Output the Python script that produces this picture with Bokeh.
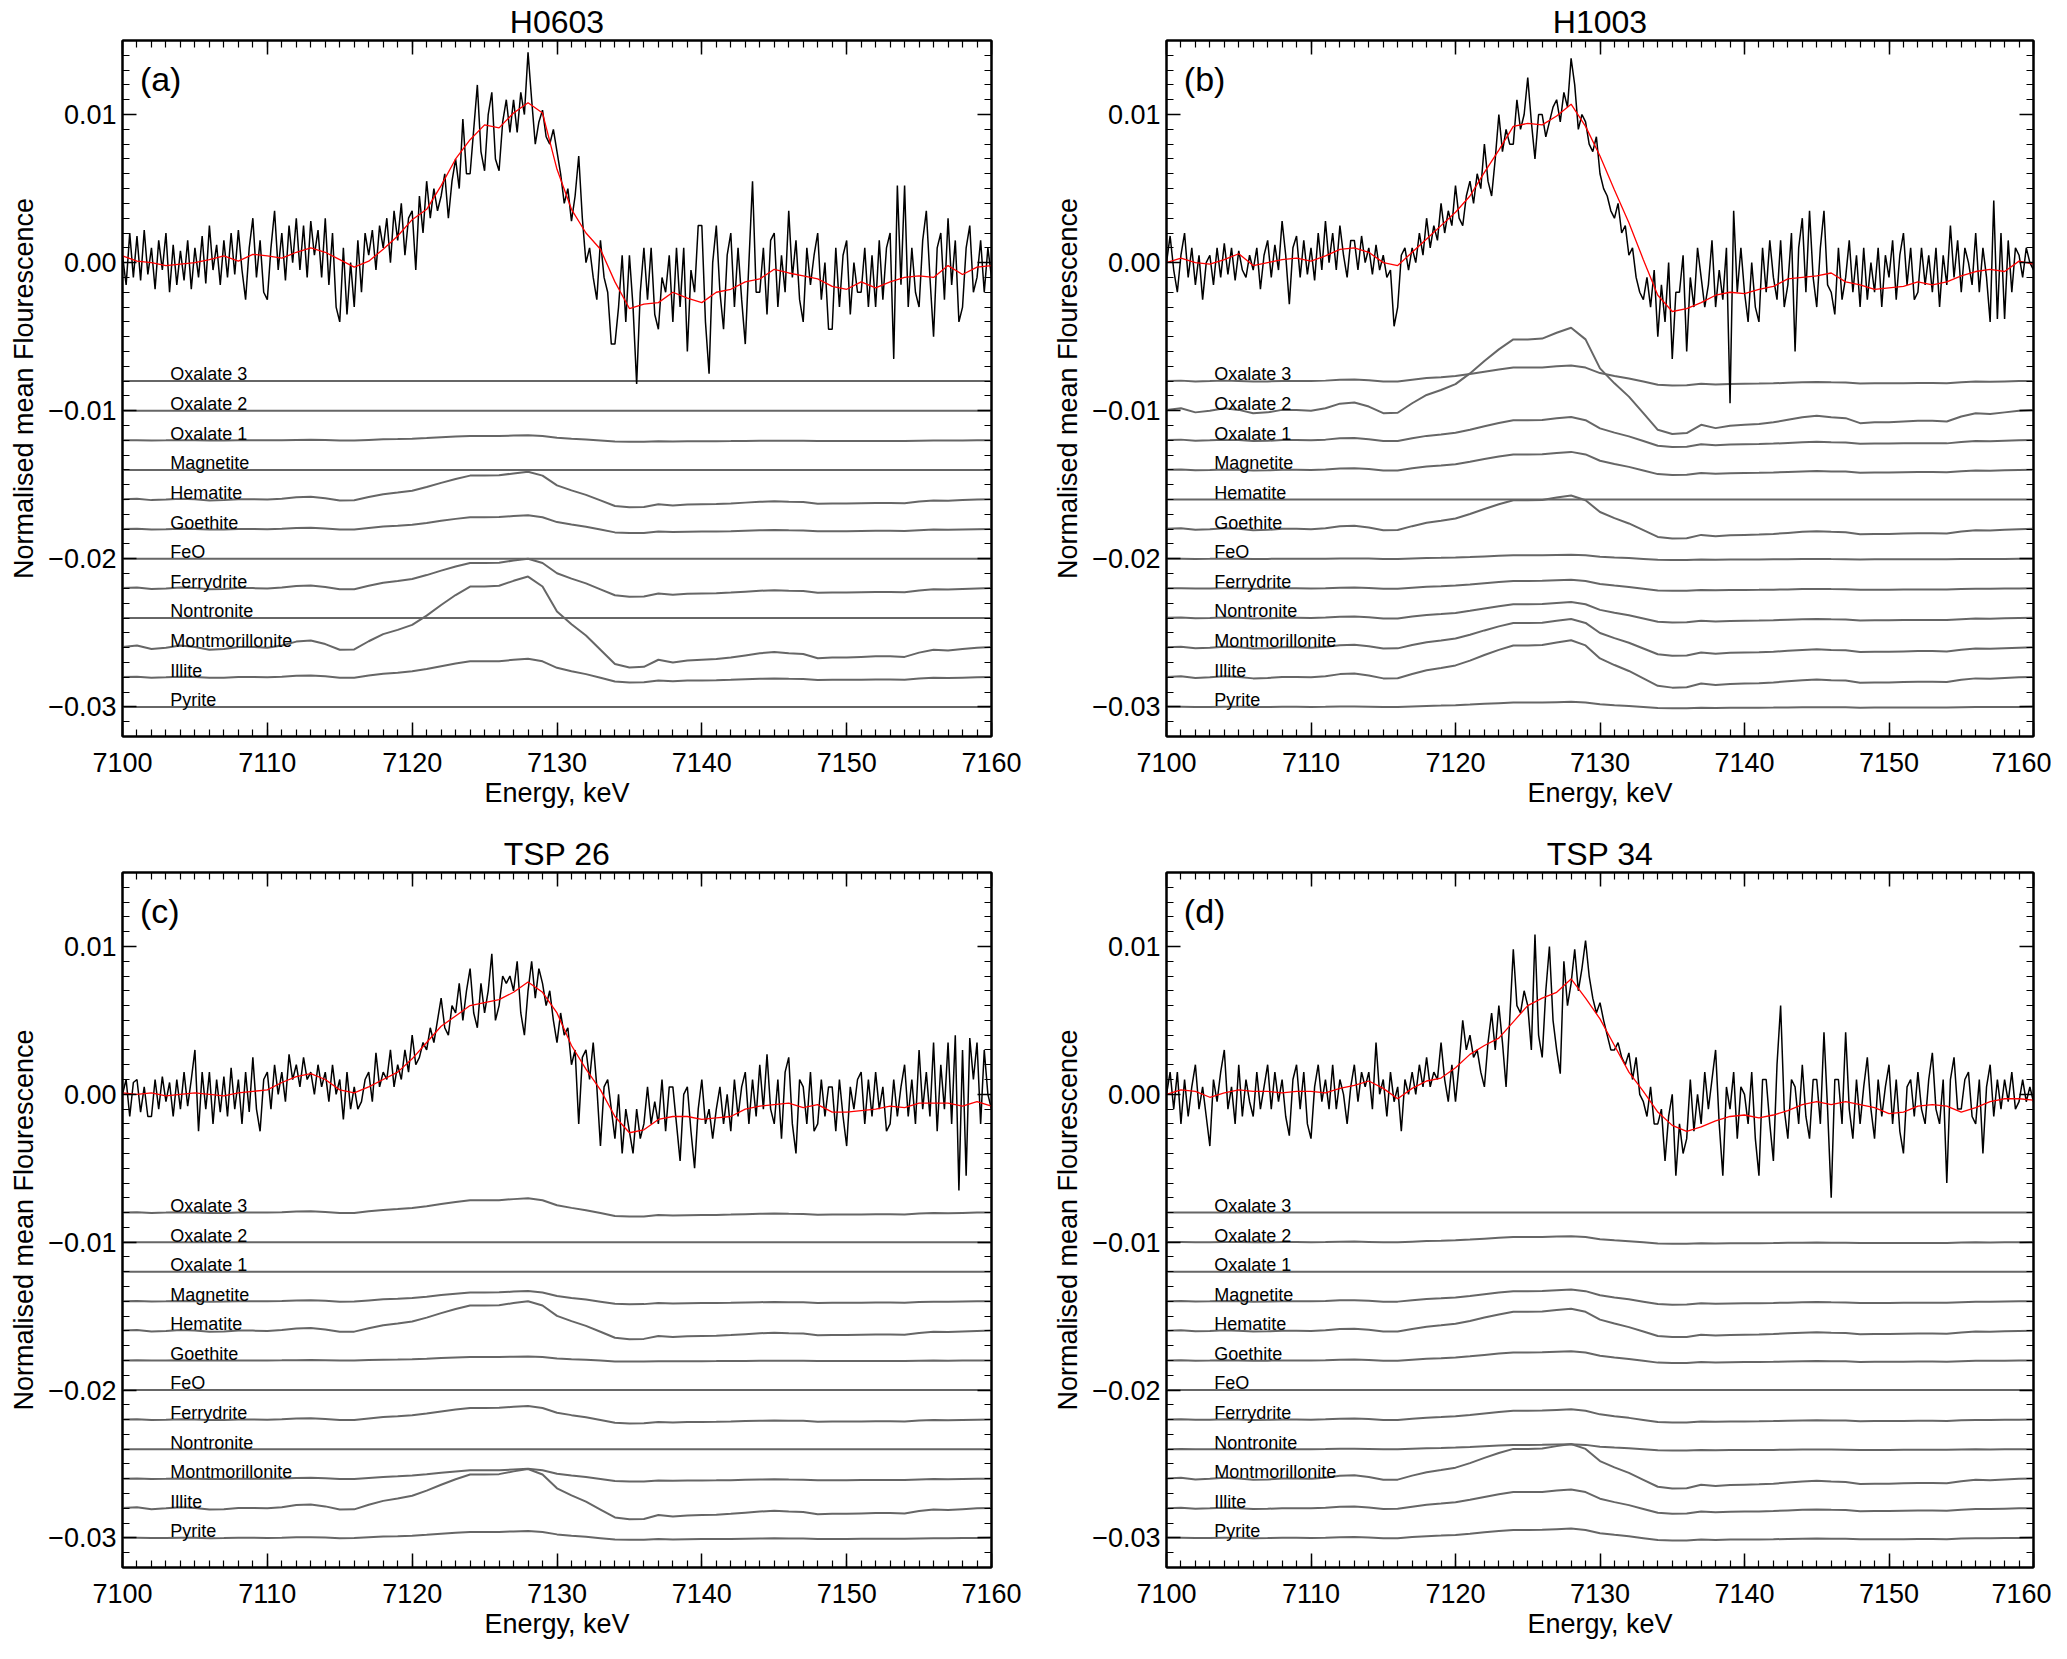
import numpy as np
from bokeh.plotting import figure
from bokeh.layouts import gridplot
from bokeh.core.properties import value
from bokeh.models import (LinearAxis, SingleIntervalTicker, CustomJSTickFormatter,
                          Label, Range1d)
from bokeh.embed import file_html
from bokeh.resources import INLINE

FONT = "Liberation Sans"

# energy grids (keV): measured spectra at 0.25 keV, fits/standards at 1 keV
energy_fine = 7100 + 0.25 * np.arange(241)
energy = np.arange(7100, 7161)

panel_titles = ["H0603", "H1003", "TSP 26", "TSP 34"]
panel_letters = ["(a)", "(b)", "(c)", "(d)"]

components = ["Oxalate 3", "Oxalate 2", "Oxalate 1", "Magnetite", "Hematite", "Goethite",
              "FeO", "Ferrydrite", "Nontronite", "Montmorillonite", "Illite", "Pyrite"]
comp_offsets = [-0.008, -0.010, -0.012, -0.014, -0.016, -0.018,
                -0.020, -0.022, -0.024, -0.026, -0.028, -0.030]

# edge shape of the standards, normalised to 1 at the 7128 keV peak
edge_shape = [0.01, 0.03, -0.02, 0.0, 0.03, 0.01, -0.03, -0.02, 0.01, 0.01,
              0.0, 0.03, 0.085, 0.10, 0.05, -0.03, -0.025, 0.09, 0.19, 0.25,
              0.32, 0.45, 0.60, 0.74, 0.86, 0.86, 0.87, 0.94, 1.0, 0.86,
              0.51, 0.33, 0.17, -0.03, -0.23, -0.28, -0.27, -0.17, -0.21, -0.18,
              -0.17, -0.16, -0.14, -0.11, -0.08, -0.06, -0.08, -0.09, -0.15, -0.14,
              -0.14, -0.13, -0.12, -0.12, -0.13, -0.07, -0.03, -0.04, -0.02, 0.0,
              0.01]

# peak height of each standard's contribution, per panel
weights_a = [0, 0, 0.00034, 0, 0.00188, 0.00094, 0, 0.0020, 0, 0.0048, 0.00125, 0]
weights_b = [0.00106, 0.0056, 0.00158, 0.00122, 0, 0.00227, 0.00027, 0.00059, 0.00108, 0.00194, 0.0025, 0.00034]
weights_c = [0.00097, 0, 0, 0.0007, 0.0020, 0.00027, 0, 0.00092, 0, 0.00067, 0.00266, 0.00047]
weights_d = [0, 0.0004, 0, 0.0008, 0.0015, 0.00063, 0, 0.0007, 0.00034, 0.00235, 0.00128, 0.00063]

# fitted curves (red), units of 1e-4
red_a = [4.5, 1, 0, -2, -1, 0, 2, 4.5, 1, 5.6, 4.5, 3, 7, 10, 7, 2, -3, 1, 9, 18,
         29, 36, 52, 70, 83, 93, 91, 101, 108, 101, 63, 36, 20, 9, -13, -31, -28, -27, -20, -24,
         -27, -20, -18, -13, -11, -4.5, -7, -9, -11, -16, -18, -13, -17, -13, -10, -9, -10, -2, -8, -3,
         -2]
red_b = [0, 3, 0, -1, 2, 6, -2, 0, 2, 3, 1, 4.5, 9, 10, 7, 0, -2, 7, 16, 25,
         34, 45, 61, 76, 92, 94, 93, 99, 107, 92, 72, 49, 27, 2, -22, -33, -31, -27, -22, -20,
         -21, -18, -16, -11, -10, -9, -7, -13, -15, -18, -17, -16, -13, -15, -13, -9, -6, -4.5, -6, 1,
         -1]
red_c = [1, 0, 1, -1, 0, 1, 0, -1, 1, 2, 3, 8, 12, 14, 10, 3, 1, 5, 10, 15,
         24, 35, 46, 53, 60, 62, 64, 69, 76, 69, 55, 33, 17, 3, -15, -26, -24, -17, -15, -15,
         -17, -16, -15, -10, -8, -7, -6, -9, -7, -12, -12, -11, -10, -8, -9, -6, -6, -6, -8, -5,
         -8]
red_d = [0, 3, 2, -2, 1, 3, 2, 2, 1, 2, 2, 1, 4, 6, 9, 4, -3, 4, 9, 11,
         18, 27, 33, 38, 49, 60, 65, 69, 78, 65, 51, 33, 15, 2, -12, -21, -25, -22, -18, -15,
         -14, -16, -14, -11, -7, -5, -7, -5, -7, -9, -13, -12, -8, -7, -8, -12, -9, -5, -3, -3,
         -4]

# measured spectra (black), units of 1e-4, four samples per keV
black_a = [5, -15, 20, -10, 18, -12, 22, -8, 10, -18, 15, -5, 20, -20, 12, -15,
           8, -12, 15, -18, 10, -10, 18, -14, 25, -5, 12, -15, 15, -10, 20, -8,
           22, -5, -25, 10, 30, -10, 15, -20, -25, 10, 35, -5, 20, -12, 25, 0,
           30, -5, 25, -10, 28, 5, 22, -10, 30, -15, 20, -30, -40, 10, -35, 0,
           -30, 15, -20, 20, 5, 22, -5, 25, 10, 30, 0, 35, 15, 40, 5, 30,
           35, -5, 45, 20, 55, 30, 50, 35, 45, 60, 30, 55, 70, 50, 97, 60,
           60, 90, 120, 75, 62, 100, 115, 70, 62, 95, 110, 88, 110, 88, 115, 100,
           142, 110, 80, 95, 103, 85, 80, 90, 75, 60, 40, 50, 28, 45, 72, 30,
           0, 10, -10, -25, 15, -10, -20, -55, -55, -30, 5, -40, 5, -30, -82, -20,
           10, -25, 10, -35, -45, -10, -20, 5, -40, 10, -30, 10, -60, -5, -20, 25,
           25, -40, -75, 0, 25, -20, -45, 5, 20, -30, 10, -25, -55, 0, 55, -20,
           -20, 10, -35, 15, 20, -30, 5, -20, 35, -10, 15, -25, -40, 10, -15, 5,
           20, -25, 0, -45, -45, 10, -30, 5, 15, -35, 0, -20, -20, 10, -30, 5,
           -30, 15, -25, 10, 20, -65, 52, -15, 52, -30, 10, -20, -30, 15, 35, -10,
           -50, 10, 20, -25, 30, -15, 15, -40, -30, 10, 25, -20, -10, 15, -20, 10,
           -10]
black_b = [0, 18, -5, -20, 5, 20, -10, 10, -15, 5, -25, 0, 5, -15, 10, -10,
           13, -8, 10, -12, 8, -5, -10, 5, -5, 10, -18, 5, 15, -10, 12, -5,
           28, 5, -28, 10, 18, -10, 15, -8, 10, -12, 20, -5, 28, 0, 20, -5,
           25, 5, -10, 15, 15, -5, 18, 0, 10, -8, 12, -5, 5, -10, -5, -43,
           -30, 5, 10, -5, 10, 0, 20, 5, 30, 10, 25, 15, 40, 20, 35, 25,
           52, 30, 25, 45, 55, 40, 60, 50, 80, 55, 45, 70, 100, 75, 90, 80,
           80, 110, 90, 100, 125, 95, 70, 100, 100, 85, 95, 105, 110, 95, 115, 105,
           138, 120, 90, 100, 95, 80, 75, 85, 60, 50, 45, 35, 30, 40, 20, 25,
           5, 10, -10, -20, -25, -10, -30, -5, -50, -15, -40, 0, -65, -20, -20, 5,
           -60, -10, -30, 10, -10, -30, -15, 15, -30, -5, -25, 10, -95, 35, -20, 10,
           -20, -40, 0, -30, -40, 10, -20, 15, -10, -25, 15, -30, -15, 20, -60, 10,
           30, -20, 35, -10, -30, 10, 35, -15, -20, -35, 10, -25, -10, 15, -20, 5,
           -30, 10, -25, 0, -20, 10, -30, 5, -10, 15, -25, 5, 20, -15, 10, -25,
           -20, 10, -15, 5, -20, 10, -30, 5, -15, 25, -10, 15, -20, 10, 0, -15,
           20, -20, 10, -10, -40, 42, -38, 20, -38, 15, -20, 10, 5, -10, 10, 0,
           -5]
black_c = [0, 10, -15, 8, 10, -12, 5, -15, -15, 10, -10, 12, -5, 8, -15, 10,
           -10, 15, -8, 10, 30, -25, 15, -10, 15, -20, 10, -12, 12, -15, 18, -10,
           10, -20, 15, -12, 25, -10, -25, 10, 15, -10, 20, 0, 15, -5, 27, 10,
           20, 5, 25, 10, 15, 0, 20, 5, 15, -5, 20, 0, 10, -17, 15, -10,
           5, -10, -5, 10, 15, -5, 28, 5, 15, 10, 30, 5, 20, 10, 30, 15,
           40, 20, 25, 35, 30, 45, 35, 50, 65, 45, 40, 60, 55, 75, 50, 70,
           85, 55, 45, 75, 55, 70, 95, 50, 60, 80, 75, 80, 70, 90, 55, 40,
           70, 90, 65, 85, 75, 60, 70, 50, 35, 55, 40, 45, 20, 30, -20, 25,
           30, 10, 35, 5, -35, 5, 10, -10, -30, 0, -40, -10, -25, -40, -10, -30,
           -20, 5, -20, -5, -20, 10, -25, 5, 5, -20, -45, 0, 5, -25, -50, -10,
           10, -20, -10, -30, -10, 5, -20, 0, -25, 10, -15, 5, 15, -20, 10, -15,
           20, -10, 27, -10, -20, 10, -30, 15, 25, -20, -40, 10, 5, -20, 15, -25,
           -20, 10, -15, 5, 5, -25, 10, -15, -35, 5, -10, 10, 15, -20, 10, -15,
           15, -10, 5, -25, -20, 10, -15, 5, 20, -15, 10, -20, 30, -10, 15, -15,
           35, -25, 20, -10, 35, -20, 40, -65, 30, -55, 38, 10, 35, -20, 30, 0,
           -10]
black_d = [0, 15, -10, 15, -20, 10, -15, 5, 20, -10, 5, -15, -35, 10, -5, 15,
           30, -10, 5, -20, 20, -15, 10, -5, -15, 15, -10, 5, 20, -10, 15, -5,
           10, -15, -28, 10, 20, -10, 15, -20, -30, 5, 20, -5, 10, -10, 20, -10,
           10, 0, -20, 5, 20, -5, 15, 5, 15, -10, 35, 0, 10, -15, 15, -5,
           5, -25, 10, 0, 15, 0, 20, 5, 25, 5, 15, 10, 35, 10, -5, 20,
           -5, 20, 50, 30, 40, 25, 30, 15, 5, 35, 55, 30, 60, 35, 5, 50,
           98, 60, 55, 70, 60, 30, 108, 40, 25, 70, 100, 50, 30, 14, 90, 60,
           75, 98, 70, 85, 104, 80, 65, 55, 62, 50, 40, 30, 30, 35, 25, 20,
           28, 10, 25, 0, -5, -15, 5, -20, -20, -10, -45, -15, 0, -55, -20, -40,
           -30, 10, -25, 0, -20, 15, -10, 10, 30, -20, -55, 5, -10, 15, -30, 5,
           0, -20, 15, -30, -55, 10, 10, -20, -45, 20, 60, -10, -30, 10, 5, -20,
           20, -15, -30, 10, 10, -20, 42, -10, -70, 10, 10, -20, 42, -10, -30, 10,
           -20, 5, 25, -10, -30, 10, -15, 5, 20, -20, 10, -25, -40, 5, 10, -15,
           15, -10, -20, 10, 28, -10, -20, 10, -60, 10, 25, -10, -10, 10, 15, -15,
           -20, 10, -40, 5, 20, -15, 10, -10, 10, -5, 15, -10, -5, 10, -5, 5,
           -5]

panels = [
    (black_a, red_a, weights_a),
    (black_b, red_b, weights_b),
    (black_c, red_c, weights_c),
    (black_d, red_d, weights_d),
]

Y0, Y1 = -0.0320, 0.0150

yfmt_code = "return (tick < -1e-9 ? '\u2212' : '') + Math.abs(tick).toFixed(2);"


def style_axis(ax, labels=True):
    ax.axis_line_width = 2
    ax.axis_line_color = "black"
    ax.major_tick_in = 14
    ax.major_tick_out = 0
    ax.minor_tick_in = 7
    ax.minor_tick_out = 0
    ax.major_tick_line_width = 1.5
    ax.minor_tick_line_width = 1.2
    ax.major_tick_line_color = "black"
    ax.minor_tick_line_color = "black"
    ax.major_label_text_font = FONT
    ax.axis_label_text_font = FONT
    ax.axis_label_text_font_style = "normal"
    ax.axis_label_text_font_size = "27px"
    ax.axis_label_text_color = "black"
    ax.major_label_text_color = "black"
    ax.major_label_text_font_size = "27px"
    if not labels:
        # mirror axis: ticks only
        ax.formatter = CustomJSTickFormatter(code="return '';")
        ax.major_label_standoff = 0


def make_panel(i, width, height, left, right, top, bottom):
    black, red, weights = panels[i]
    p = figure(width=width, height=height, output_backend="svg", toolbar_location=None,
               x_range=Range1d(7100, 7160), y_range=Range1d(Y0, Y1),
               min_border_left=left, min_border_right=right,
               min_border_top=top, min_border_bottom=bottom)
    p.xgrid.visible = False
    p.ygrid.visible = False
    p.outline_line_color = "black"
    p.outline_line_width = 2
    p.background_fill_color = "white"
    p.border_fill_color = "white"

    p.title.text = panel_titles[i]
    p.title.text_font = FONT
    p.title.text_font_size = "32px"
    p.title.text_font_style = "normal"
    p.title.text_color = "black"
    p.title.align = "center"
    p.title.standoff = 2

    p.xaxis.ticker = SingleIntervalTicker(interval=10, num_minor_ticks=10)
    p.yaxis.ticker = SingleIntervalTicker(interval=0.01, num_minor_ticks=10)
    p.yaxis.formatter = CustomJSTickFormatter(code=yfmt_code)
    p.xaxis.axis_label = "Energy, keV"
    p.yaxis.axis_label = "Normalised mean Flourescence"
    style_axis(p.xaxis[0])
    style_axis(p.yaxis[0])
    p.xaxis.major_label_standoff = 16
    p.xaxis.axis_label_standoff = 3
    p.yaxis.major_label_standoff = 6
    p.yaxis.axis_label_standoff = 6

    top_ax = LinearAxis(ticker=SingleIntervalTicker(interval=10, num_minor_ticks=10))
    style_axis(top_ax, labels=False)
    p.add_layout(top_ax, "above")
    right_ax = LinearAxis(ticker=SingleIntervalTicker(interval=0.01, num_minor_ticks=10))
    style_axis(right_ax, labels=False)
    p.add_layout(right_ax, "right")

    # reference standards, offset below the spectrum
    shape = np.array(edge_shape)
    for name, off, w in zip(components, comp_offsets, weights):
        p.line(energy, off + w * shape, line_color="#666666", line_width=2)
        p.text(x=[7103.3], y=[off + 0.00045], text=[name], text_font=value(FONT),
               text_font_size="18px", text_color="black", text_baseline="alphabetic",
               text_align="left")

    p.line(energy_fine, np.array(black) * 1e-4, line_color="black", line_width=1.5)
    p.line(energy, np.array(red) * 1e-4, line_color="#ff0000", line_width=1.3)

    p.add_layout(Label(x=7101.2, y=0.0137, text=panel_letters[i], text_font=FONT,
                       text_font_size="34px", text_baseline="top", text_color="black"))
    return p


pa = make_panel(0, 1033, 830, 122, 42, 38, 94)
pb = make_panel(1, 1018, 830, 133, 18, 38, 94)
pc = make_panel(2, 1033, 811, 122, 42, 42, 70)
pd = make_panel(3, 1018, 811, 133, 18, 42, 70)

grid = gridplot([[pa, pb], [pc, pd]], toolbar_location=None)

open("out.html", "w").write(file_html(grid, INLINE))
